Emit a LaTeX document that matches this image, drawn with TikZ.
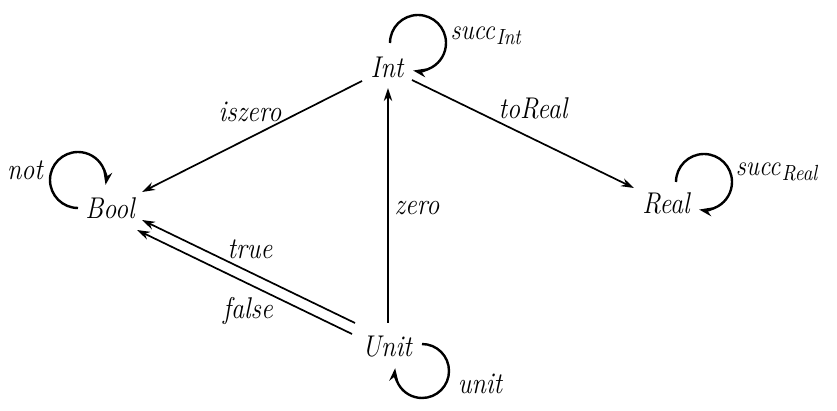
\documentclass[tikz,border=0pt]{standalone}
\usetikzlibrary{arrows.meta}
\newcommand{\tx}[1]{\scalebox{0.87}[1]{#1}}
\begin{document}
\begin{tikzpicture}[x=0.5pt,y=0.5pt,
  every node/.style={inner sep=0pt,font=\fontsize{15}{17}\selectfont\itshape},
  ty/.style={},
  lbl/.style={},
  arr/.style={line width=0.85pt,-{Stealth[length=6.5pt,width=4.2pt]}},
  looparr/.style={line width=1.2pt,-{Stealth[length=6.5pt,width=4.5pt]}}]
\useasboundingbox (0,0) rectangle (837,-411);
% types
\node[ty] (Int)  at (387,-67)  {\tx{Int}};
\node[ty] (Bool) at (110,-208) {\tx{Bool}};
\node[ty] (Real) at (666,-203) {\tx{Real}};
\node[ty] (Unit) at (387,-347) {\tx{Unit}};
% edges
\draw[arr] ([shift={(-25,-14)}]Int.center) -- ([shift={(32,16)}]Bool.center);
\node[lbl] (liszero) at (250,-112) {\tx{iszero}};
\draw[arr] ([shift={(25,-13)}]Int.center) -- ([shift={(-32,15)}]Real.center);
\node[lbl] (ltoReal) at (533,-108) {\tx{toReal}};
\draw[arr] ([shift={(1,24)}]Unit.center) -- ([shift={(1,-21)}]Int.center);
\node[lbl] (lzero) at (417,-208) {\tx{zero}};
\draw[arr] ([shift={(-32,24)}]Unit.center) -- ([shift={(32,-12)}]Bool.center);
\node[lbl] (ltrue) at (250,-249) {\tx{true}};
\draw[arr] ([shift={(-35,13)}]Unit.center) -- ([shift={(27,-22)}]Bool.center);
\node[lbl] (lfalse) at (248,-311) {\tx{false}};
% loops
\draw[looparr] ([shift={(3,24)}]Int.center) arc[start angle=180,end angle=-100,radius=28];
\node[lbl] (lsuccInt) at (487,-36) {\tx{$\mathit{succ}_{\mathit{Int}}$}};
\draw[looparr] ([shift={(-32,0)}]Bool.center) arc[start angle=-90,end angle=-370,radius=28];
\node[lbl] (lnot) at (25,-170) {\tx{not}};
\draw[looparr] ([shift={(10,21)}]Real.center) arc[start angle=180,end angle=-100,radius=28];
\node[lbl] (lsuccReal) at (778,-172) {\tx{$\mathit{succ}_{\mathit{Real}}$}};
\draw[looparr] ([shift={(35,3)}]Unit.center) arc[start angle=90,end angle=-186,radius=27];
\node[lbl] (lunit) at (480,-384) {\tx{unit}};
\end{tikzpicture}
\end{document}
